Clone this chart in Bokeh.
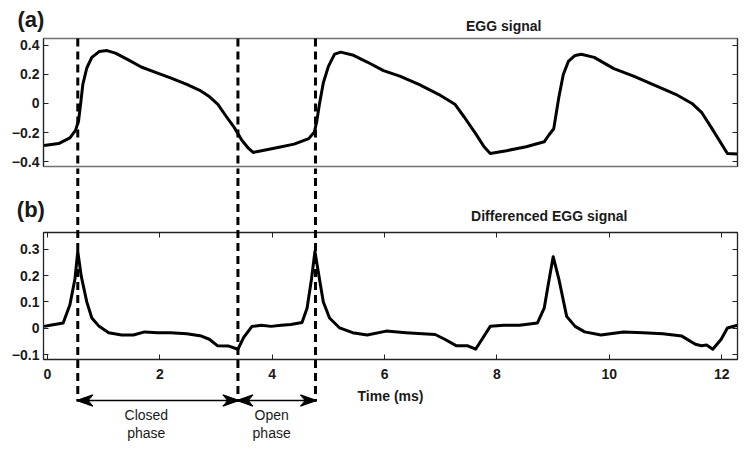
from bokeh.plotting import figure
from bokeh.layouts import column
from bokeh.models import FixedTicker, LinearAxis, Range1d
from bokeh.core.properties import value
from bokeh.embed import file_html
from bokeh.resources import INLINE

# ---------------- data ----------------
egg_time = [-0.06, 0.20, 0.40, 0.50, 0.555, 0.59, 0.63, 0.70, 0.79, 0.92, 1.06, 1.21,
            1.44, 1.67, 1.90, 2.19, 2.48, 2.71, 2.88, 3.03, 3.17, 3.32, 3.46, 3.58,
            3.66, 3.81, 4.10, 4.39, 4.65, 4.75, 4.79, 4.84, 4.91, 5.00, 5.11, 5.22,
            5.43, 5.69, 5.98, 6.27, 6.61, 6.96, 7.25, 7.42, 7.62, 7.77, 7.88, 8.17,
            8.52, 8.84, 8.92, 9.01, 9.10, 9.18, 9.27, 9.39, 9.50, 9.73, 10.08, 10.43,
            10.77, 11.18, 11.47, 11.64, 11.81, 11.99, 12.10, 12.28]
egg_value = [-0.290, -0.276, -0.237, -0.185, -0.117, -0.005, 0.131, 0.244, 0.317, 0.357,
             0.364, 0.346, 0.300, 0.251, 0.217, 0.176, 0.131, 0.090, 0.047, -0.005,
             -0.083, -0.163, -0.253, -0.310, -0.337, -0.325, -0.303, -0.280, -0.242,
             -0.197, -0.129, -0.005, 0.142, 0.255, 0.339, 0.353, 0.334, 0.285, 0.226,
             0.188, 0.131, 0.063, -0.005, -0.095, -0.208, -0.298, -0.344, -0.325, -0.298,
             -0.264, -0.219, -0.174, 0.041, 0.199, 0.289, 0.330, 0.339, 0.317, 0.240,
             0.188, 0.131, 0.063, 0.000, -0.061, -0.163, -0.276, -0.344, -0.348]

degg_time = [-0.06, 0.05, 0.28, 0.40, 0.49, 0.54, 0.60, 0.70, 0.79, 0.92, 1.09, 1.32,
             1.53, 1.73, 1.96, 2.19, 2.48, 2.74, 2.88, 3.03, 3.23, 3.39, 3.49, 3.64,
             3.81, 3.98, 4.16, 4.33, 4.53, 4.62, 4.70, 4.76, 4.84, 4.91, 5.02, 5.20,
             5.43, 5.69, 6.03, 6.38, 6.90, 7.07, 7.28, 7.48, 7.62, 7.88, 8.12, 8.40,
             8.72, 8.84, 8.92, 9.00, 9.10, 9.24, 9.39, 9.56, 9.85, 10.25, 10.60, 10.95,
             11.29, 11.53, 11.64, 11.73, 11.84, 11.99, 12.10, 12.28]
degg_value = [0.007, 0.011, 0.020, 0.089, 0.188, 0.292, 0.200, 0.100, 0.039, 0.007,
              -0.017, -0.026, -0.026, -0.014, -0.017, -0.017, -0.021, -0.030, -0.042,
              -0.067, -0.068, -0.080, -0.036, 0.007, 0.011, 0.007, 0.011, 0.014, 0.022,
              0.076, 0.188, 0.292, 0.188, 0.100, 0.039, 0.001, -0.017, -0.026, -0.011,
              -0.017, -0.024, -0.042, -0.067, -0.067, -0.080, 0.007, 0.011, 0.011, 0.020,
              0.076, 0.176, 0.272, 0.188, 0.045, 0.007, -0.014, -0.026, -0.014, -0.017,
              -0.021, -0.030, -0.061, -0.067, -0.064, -0.080, -0.042, 0.001, 0.011]

phase_marks = [0.54, 3.39, 4.77]            # ms, dashed markers
phase_names = ["Closed\nphase", "Open\nphase"]
phase_label_x = [1.76, 3.99]

x_ticks = [0, 2, 4, 6, 8, 10, 12]
x_tick_labels = ["0", "2", "4", "6", "8", "10", "12"]
egg_y_ticks = [-0.4, -0.2, 0, 0.2, 0.4]
egg_y_labels = ["\u22120.4", "\u22120.2", "0", "0.2", "0.4"]
degg_y_ticks = [-0.1, 0, 0.1, 0.2, 0.3]
degg_y_labels = ["\u22120.1", "0", "0.1", "0.2", "0.3"]

title_a = "EGG signal"
title_b = "Differenced EGG signal"
panel_a = "(a)"
panel_b = "(b)"

# ---------------- style ----------------
FONT = "Liberation Sans"
INK = "#1a1a1a"
W = 739
X_RANGE = (-0.07, 12.28)
A_YR = (-0.434, 0.447)
B_YR = (-0.119, 0.364)
DASH = "8 5"


def style_axis(ax, ticks, labels, show_labels=True):
    ax.ticker = FixedTicker(ticks=ticks)
    ax.major_tick_in = 5
    ax.major_tick_out = 0
    ax.minor_tick_line_color = None
    ax.major_tick_line_color = "#222222"
    ax.axis_line_color = "#222222"
    ax.major_label_text_font = FONT
    ax.major_label_text_font_style = "bold"
    ax.major_label_text_font_size = "14px"
    if show_labels:
        ax.major_label_overrides = {t: l for t, l in zip(ticks, labels)}
        ax.major_label_text_color = INK
    else:
        ax.major_label_overrides = {t: "" for t in ticks}
        ax.major_label_text_color = None
        ax.major_label_standoff = 0


# ---------------- panel (a) ----------------
pa = figure(width=W, height=174, x_range=Range1d(*X_RANGE), y_range=Range1d(*A_YR),
            output_backend="svg", toolbar_location=None, x_axis_location=None,
            min_border_left=43, min_border_right=2, min_border_top=38, min_border_bottom=8)
pa.grid.visible = False
pa.outline_line_color = "#707070"
pa.outline_line_width = 1.6
style_axis(pa.yaxis[0], egg_y_ticks, egg_y_labels)
pa.yaxis.major_label_standoff = 4
ra = LinearAxis()
style_axis(ra, egg_y_ticks, egg_y_labels, show_labels=False)
pa.add_layout(ra, "right")

pa.line(egg_time, egg_value, line_color="black", line_width=3, line_join="round")
pa.segment(x0=phase_marks, y0=[A_YR[1]] * 3, x1=phase_marks, y1=[-0.62] * 3,
           line_color="black", line_width=3, line_dash=DASH, level="overlay")
pa.text(x=[8.12], y=[0.536], text=[title_a], text_align="center", text_baseline="middle",
        text_font=value(FONT), text_font_style="bold", text_font_size="14px",
        text_color=INK, level="overlay")
pa.text(x=[-0.295], y=[0.578], text=[panel_a], text_align="center", text_baseline="middle",
        text_font=value(FONT), text_font_style="bold", text_font_size="22px",
        text_color=INK, level="overlay")

# ---------------- panel (b) ----------------
pb = figure(width=W, height=269, x_range=pa.x_range, y_range=Range1d(*B_YR),
            output_backend="svg", toolbar_location=None,
            min_border_left=43, min_border_right=2, min_border_top=58, min_border_bottom=84)
pb.grid.visible = False
pb.outline_line_color = "#222222"
pb.outline_line_width = 1.3
style_axis(pb.yaxis[0], degg_y_ticks, degg_y_labels)
pb.yaxis.major_label_standoff = 4
style_axis(pb.xaxis[0], x_ticks, x_tick_labels)
pb.xaxis.major_label_standoff = 9
pb.xaxis.axis_label = "Time (ms)"
pb.xaxis.axis_label_text_font = FONT
pb.xaxis.axis_label_text_font_style = "bold"
pb.xaxis.axis_label_text_font_size = "14px"
pb.xaxis.axis_label_text_color = INK
pb.xaxis.axis_label_standoff = 6
ta = LinearAxis()
style_axis(ta, x_ticks, x_tick_labels, show_labels=False)
pb.add_layout(ta, "above")
rb = LinearAxis()
style_axis(rb, degg_y_ticks, degg_y_labels, show_labels=False)
pb.add_layout(rb, "right")

pb.line(degg_time, degg_value, line_color="black", line_width=3, line_join="round")

# dashed phase markers continuing through the gap and below the axis
ARROW_Y = -0.275
pb.segment(x0=phase_marks, y0=[0.72] * 3, x1=phase_marks, y1=[ARROW_Y - 0.004] * 3,
           line_color="black", line_width=3, line_dash=DASH, level="overlay")

# double-headed arrows (shaft + filled stealth heads built from short strokes)
starts = phase_marks[:-1]
ends = phase_marks[1:]
pb.segment(x0=starts, y0=[ARROW_Y] * 2, x1=ends, y1=[ARROW_Y] * 2,
           line_color="black", line_width=1.6, level="overlay")
HEAD_L = 0.27    # ms
HEAD_H = 0.021   # panel-b units
fan = [-1.0, -0.75, -0.5, -0.25, 0.0, 0.25, 0.5, 0.75, 1.0]
hx0, hy0, hx1, hy1 = [], [], [], []
for tip, sign in [(s, 1) for s in starts] + [(e, -1) for e in ends]:
    for t in fan:
        hx0.append(tip)
        hy0.append(ARROW_Y)
        hx1.append(tip + sign * HEAD_L * (0.7 + 0.3 * abs(t)))
        hy1.append(ARROW_Y + HEAD_H * t)
pb.segment(x0=hx0, y0=hy0, x1=hx1, y1=hy1, line_color="black", line_width=1.6,
           level="overlay")

pb.text(x=phase_label_x, y=[-0.365] * 2, text=phase_names, text_align="center",
        text_baseline="middle", text_font=value(FONT), text_font_size="14px",
        text_line_height=1.15, text_color=INK, level="overlay")

pb.text(x=[8.93], y=[0.425], text=[title_b], text_align="center", text_baseline="middle",
        text_font=value(FONT), text_font_style="bold", text_font_size="14px",
        text_color=INK, level="overlay")
pb.text(x=[-0.295], y=[0.4515], text=[panel_b], text_align="center", text_baseline="middle",
        text_font=value(FONT), text_font_style="bold", text_font_size="22px",
        text_color=INK, level="overlay")

layout = column(pa, pb, spacing=0)
open("out.html", "w").write(file_html(layout, INLINE))
